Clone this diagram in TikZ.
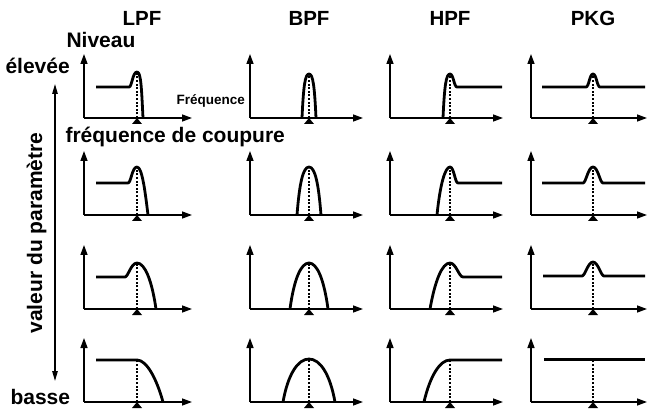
\documentclass[tikz,border=0pt]{standalone}
\usepackage{fontspec}
\setmainfont{Liberation Sans}
\usetikzlibrary{arrows.meta}

\tikzset{
	axisline/.style={line width=1.4pt,-{Triangle[length=10pt,width=7pt]}},
	response/.style={line width=2.8pt,line join=round},
	cutoff/.style={line width=1.3pt,dash pattern=on 2pt off 1.6pt},
	param/.style={line width=1.3pt,{Triangle[length=10pt,width=5.5pt]}-{Triangle[length=10pt,width=5.5pt]}},
	headtext/.style={font=\bfseries\fontsize{20.5}{24}\selectfont},
	sidetext/.style={font=\bfseries\fontsize{21}{25}\selectfont},
	smalltext/.style={font=\bfseries\fontsize{13.5}{16}\selectfont},
}

% #1,#2 origin  #3 axis length  #4 cut-off  #5 level at cut-off  #6 curve
\newcommand{\filterplot}[6]{
	\begin{scope}[shift={(#1,#2)},yscale=-1]
		\draw[axisline] (0,0) -- (0,64);
		\draw[axisline] (0,0) -- (#3,0);
		\draw[cutoff] (#4,0) -- (#4,#5);
		\fill (#4-5,-6) -- (#4+5,-6) -- (#4,0) -- cycle;
		\draw[response] #6;
	\end{scope}
}

\begin{document}
\begin{tikzpicture}[x=1pt,y=-1pt]
	\useasboundingbox (0,0) rectangle (654,417);

	\node[headtext,anchor=base] (LPF) at (142,26) {LPF};
	\node[headtext,anchor=base] (BPF) at (309,26) {BPF};
	\node[headtext,anchor=base] (HPF) at (450,26) {HPF};
	\node[headtext,anchor=base] (PKG) at (593,26) {PKG};
	\node[sidetext,anchor=base west] (niveau) at (63,48) {Niveau};
	\node[sidetext,anchor=base west] (haute) at (2,74) {élevée};
	\node[smalltext,anchor=base west] (freq) at (173,105) {Fréquence};
	\node[sidetext,anchor=base west] (coupure) at (62,143) {fréquence de coupure};
	\node[sidetext,anchor=base west] (basse) at (7,404) {basse};
	\node[sidetext,anchor=base,rotate=90] (valeur) at (42,233) {valeur du paramètre};

	\coordinate (high) at (55,84);
	\coordinate (low) at (55,381);
	\draw[param] (high) -- (low);

	% LPF
	\filterplot{84}{118}{108}{53}{46}{(12,31) -- (45,31) .. controls (48,31) and (48.5,46) .. (53,46) .. controls (57,46) and (57.5,30) .. (59,0)}
	\filterplot{84}{215}{108}{53}{48}{(12,32) -- (44,32) .. controls (47,32) and (48,48) .. (53,48) .. controls (58,48) and (61,25) .. (64,0)}
	\filterplot{84}{309}{108}{53}{46}{(12,32) -- (41,32) .. controls (44,32) and (47,46) .. (53,46) .. controls (61,46) and (68,28) .. (72,0)}
	\filterplot{84}{402}{108}{53}{42}{(12,42) -- (53,42) .. controls (63,42) and (73,22) .. (79,0)}
	% BPF
	\filterplot{250}{118}{113}{59}{44}{(52,0) .. controls (53.5,32) and (55,44) .. (59,44) .. controls (63,44) and (64.5,32) .. (66,0)}
	\filterplot{250}{215}{113}{59}{48}{(47,0) .. controls (49.5,32) and (53,48) .. (59,48) .. controls (65,48) and (68.5,32) .. (71,0)}
	\filterplot{250}{309}{113}{59}{46}{(40,0) .. controls (44,30) and (51,46) .. (59,46) .. controls (67,46) and (74,30) .. (78,0)}
	\filterplot{250}{402}{113}{59}{43}{(33,0) .. controls (38,28) and (48,43) .. (59,43) .. controls (70,43) and (80,28) .. (85,0)}
	% HPF
	\filterplot{390}{118}{113}{60}{44}{(53,0) .. controls (54.5,32) and (56,44) .. (60,44) .. controls (63.5,44) and (64,31) .. (67,31) -- (112,31)}
	\filterplot{390}{215}{113}{60}{48}{(47,0) .. controls (50,30) and (55,48) .. (60,48) .. controls (64,48) and (65,32) .. (68,32) -- (112,32)}
	\filterplot{390}{309}{113}{60}{46}{(40,0) .. controls (45,28) and (52,46) .. (60,46) .. controls (66,46) and (69,32) .. (73,32) -- (112,32)}
	\filterplot{390}{402}{113}{60}{42}{(34,0) .. controls (40,26) and (50,42) .. (60,42) -- (112,42)}
	% PKG
	\filterplot{531}{118}{116}{62}{44}{(11,31) -- (55,31) .. controls (58,31) and (58.5,44) .. (62,44) .. controls (65.5,44) and (66,31) .. (69,31) -- (114,31)}
	\filterplot{531}{215}{116}{62}{48}{(11,32) -- (52,32) .. controls (55,32) and (57,48) .. (62,48) .. controls (67,48) and (69,32) .. (72,32) -- (114,32)}
	\filterplot{531}{309}{116}{62}{47}{(12,33) -- (51,33) .. controls (54,33) and (57,47) .. (62,47) .. controls (67,47) and (70,33) .. (73,33) -- (114,33)}
	\filterplot{531}{402}{116}{62}{42.5}{(13,42.5) -- (114,42.5)}
\end{tikzpicture}
\end{document}
